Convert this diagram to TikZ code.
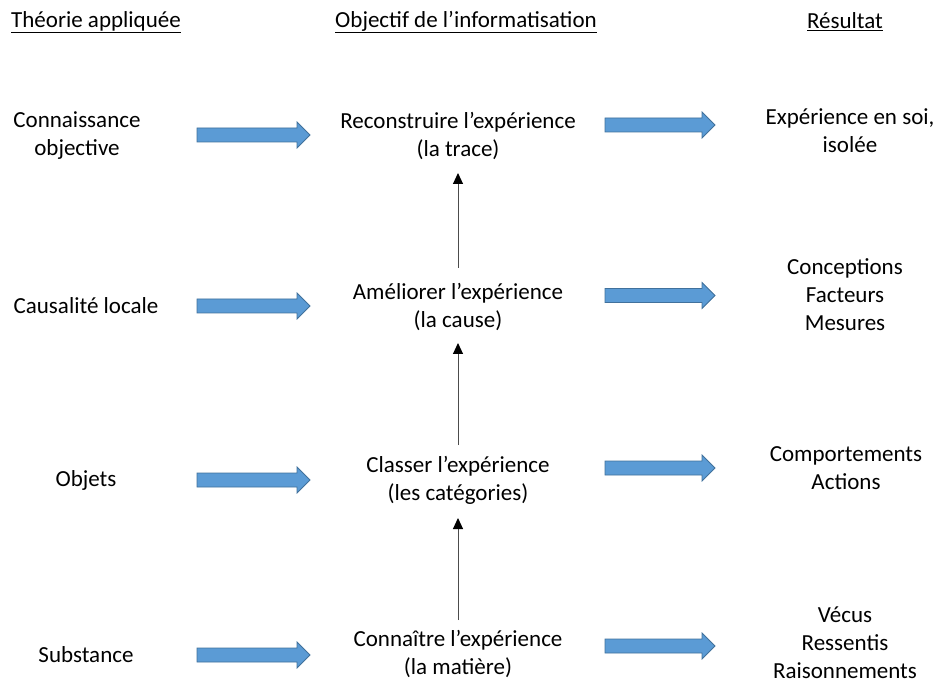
\documentclass[tikz,border=0pt]{standalone}
\usepackage{fontspec}
\setmainfont{Carlito}
\usetikzlibrary{arrows.meta}
\definecolor{arrfill}{HTML}{5B9BD5}
\definecolor{arrdraw}{HTML}{41719C}
\tikzset{
  txt/.style={align=center, inner sep=0pt, font=\fontsize{23}{28}\selectfont},
  hdr/.style={inner sep=0pt, font=\fontsize{23}{28}\selectfont},
  blockarr/.style={fill=arrfill, draw=arrdraw, line width=0.8pt, line join=miter},
  varr/.style={draw=black!70, line width=1pt, -{Triangle[width=10pt,length=11pt,color=black]}}
}
\newcommand{\blockarrow}[3]{%
  \draw[blockarr] (#1,#2-7) -- (#1+#3-13,#2-7) -- (#1+#3-13,#2-13) -- (#1+#3,#2)
    -- (#1+#3-13,#2+13) -- (#1+#3-13,#2+7) -- (#1,#2+7) -- cycle;}
\begin{document}
\begin{tikzpicture}[x=1pt,y=-1pt]
\useasboundingbox (0,0) rectangle (937,684);
% headers
\node[hdr] (h1) at (96,22) {\underline{Théorie appliquée}};
\node[hdr] (h2) at (466,22) {\underline{Objectif de l’informatisation}};
\node[hdr] (h3) at (845,22) {\underline{Résultat}};
% left column
\node[txt] (l1) at (77,136) {Connaissance\\objective};
\node[txt] (l2) at (86,306) {Causalité locale};
\node[txt] (l3) at (86,480) {Objets};
\node[txt] (l4) at (86,655) {Substance};
% middle column
\node[txt] (m1) at (458,136) {Reconstruire l’expérience\\(la trace)};
\node[txt] (m2) at (458,307) {Améliorer l’expérience\\(la cause)};
\node[txt] (m3) at (458,480) {Classer l’expérience\\(les catégories)};
\node[txt] (m4) at (458,654) {Connaître l’expérience\\(la matière)};
% right column
\node[txt] (r1) at (850,131) {Expérience en soi,\\isolée};
\node[txt] (r2) at (845,295) {Conceptions\\Facteurs\\Mesures};
\node[txt] (r3) at (846,468) {Comportements\\Actions};
\node[txt] (r4) at (845,643) {Vécus\\Ressentis\\Raisonnements};
% block arrows
\blockarrow{197}{135}{113}
\blockarrow{197}{306}{113}
\blockarrow{197}{480}{113}
\blockarrow{197}{655}{113}
\blockarrow{605}{125}{110}
\blockarrow{605}{295.5}{110}
\blockarrow{605}{468}{110}
\blockarrow{605}{646}{110}
% vertical arrows
\coordinate (a1s) at (458,268); \coordinate (a1e) at (458,173);
\coordinate (a2s) at (458,445); \coordinate (a2e) at (458,343);
\coordinate (a3s) at (458,620); \coordinate (a3e) at (458,518);
\draw[varr] (a1s) -- (a1e);
\draw[varr] (a2s) -- (a2e);
\draw[varr] (a3s) -- (a3e);
\end{tikzpicture}
\end{document}
